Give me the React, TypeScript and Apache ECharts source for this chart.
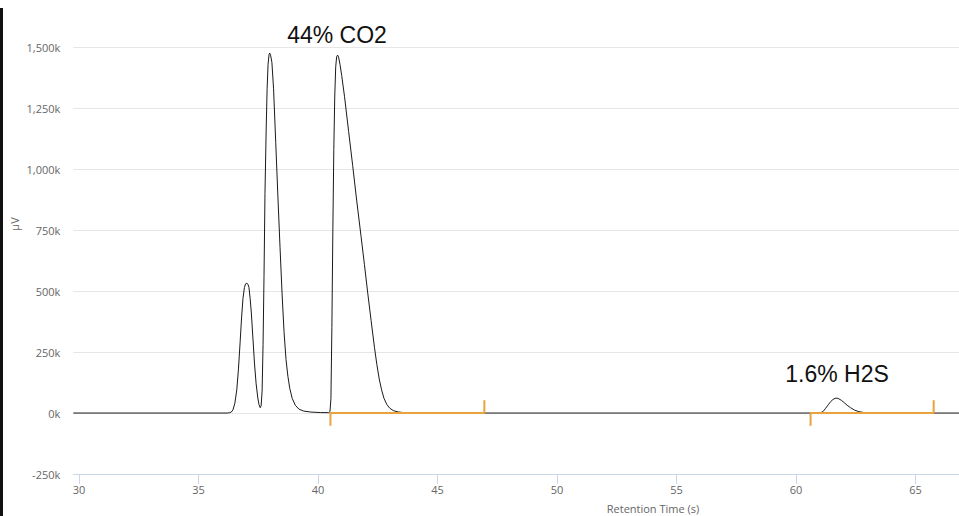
import React, { useEffect, useRef } from "react";
import * as echarts from "echarts";

// Chromatogram trace: retention time (s) and signal (µV)
const traceTime = [
  29.76, 36.2, 36.3, 36.37, 36.44, 36.52, 36.6, 36.67, 36.74, 36.8, 36.86, 36.92, 36.97, 37.02, 37.07, 37.11,
  37.16, 37.21, 37.28, 37.34, 37.41, 37.48, 37.53, 37.58, 37.62, 37.66, 37.7, 37.74, 37.78, 37.83, 37.87,
  37.91, 37.95, 37.98, 38.02, 38.07, 38.14, 38.23, 38.32, 38.41, 38.5, 38.58, 38.66, 38.74, 38.82, 38.92,
  39.05, 39.2, 39.4, 39.7, 40.1, 40.45, 40.5, 40.54, 40.58, 40.62, 40.66, 40.7, 40.74, 40.78, 40.82, 40.86,
  40.92, 40.99, 41.11, 41.28, 41.45, 41.62, 41.8, 41.94, 42.08, 42.22, 42.36, 42.46, 42.56, 42.66, 42.76,
  42.88, 43.0, 43.15, 43.35, 43.6, 44.0,
  60.9, 61.03, 61.14, 61.24, 61.35, 61.45, 61.55, 61.64, 61.72, 61.8, 61.9, 62.0, 62.14, 62.28, 62.45, 62.63,
  62.85, 63.05, 63.4, 66.82,
];
const traceSignal = [
  0, 0, 1500, 4000, 13000, 40000, 95000, 180000, 290000, 390000, 470000, 515000, 530000, 532000, 528000, 515000,
  470000, 410000, 300000, 205000, 120000, 62000, 35000, 22000, 30000, 90000, 280000, 560000, 900000, 1161000, 1330000,
  1430000, 1470000, 1476000, 1465000, 1438000, 1330000, 1110000, 890000, 680000, 480000, 330000, 220000, 150000, 100000, 60000,
  32000, 16000, 8000, 4000, 2000, 1500, 6000, 60000, 350000, 751000, 1080000, 1300000, 1420000, 1462000, 1468000, 1460000,
  1430000, 1385000, 1297000, 1155000, 1015000, 870000, 725000, 610000, 492000, 380000, 270000, 200000, 140000, 95000, 60000,
  35000, 20000, 10000, 4500, 1500, 0,
  0, 1000, 7000, 19700, 34000, 46700, 56000, 60500, 61000, 58000, 52000, 44000, 32000, 22000, 12000, 5700,
  2000, 500, 0, 0,
];

// Integration windows (start, end) in seconds, with marker height
const co2Window = [40.52, 46.96];
const h2sWindow = [60.61, 65.76];
const markerHeight = 52000;

const xTicks = [30, 35, 40, 45, 50, 55, 60, 65];
const xMin = 29.76;
const xMax = 66.82;
const yMin = -250000;
const yMax = 1500000;
const yStep = 250000;

const annotations = [
  { text: "44% CO2", x: 337, y: 35 },
  { text: "1.6% H2S", x: 837, y: 374 },
];

const LABEL_FONT = "'Open Sans', sans-serif";
const ORANGE = "#E8A33D";

function windowLine(w: number[]) {
  return [
    [w[0], -markerHeight],
    [w[0], 0],
    [w[1], 0],
    [w[1], markerHeight],
  ];
}

export default function App() {
  const ref = useRef<HTMLDivElement>(null);
  useEffect(() => {
    if (!ref.current) return;
    const chart = echarts.init(ref.current, null, { renderer: "svg" });
    const traceData = traceTime.map((t, i) => [t, traceSignal[i]]);
    chart.setOption({
      animation: false,
      backgroundColor: "#ffffff",
      grid: { left: 73.3, right: 0, top: 47.3, bottom: 42 },
      xAxis: {
        type: "value",
        min: xMin,
        max: xMax,
        axisLine: { show: true, onZero: false, lineStyle: { color: "#ccd6eb", width: 1 } },
        axisTick: { show: true, length: 10, customValues: xTicks, lineStyle: { color: "#ccd6eb" } },
        axisLabel: {
          customValues: xTicks,
          color: "#666666",
          fontFamily: LABEL_FONT,
          fontSize: 11,
          margin: 10,
        },
        splitLine: { show: false },
      },
      yAxis: {
        type: "value",
        min: yMin,
        max: yMax,
        interval: yStep,
        axisLine: { show: false },
        axisTick: { show: false },
        axisLabel: {
          color: "#666666",
          fontFamily: LABEL_FONT,
          fontSize: 11,
          margin: 13,
          formatter: (v: number) => (v / 1000).toLocaleString("en-US") + "k",
        },
        splitLine: { show: true, lineStyle: { color: "#e6e6e6", width: 1 } },
      },
      series: [
        {
          type: "line",
          data: traceData,
          showSymbol: false,
          smooth: false,
          lineStyle: { color: "#1a1a1a", width: 1 },
          z: 3,
        },
        {
          type: "line",
          data: windowLine(co2Window),
          showSymbol: false,
          lineStyle: { color: ORANGE, width: 2 },
          z: 4,
        },
        {
          type: "line",
          data: windowLine(h2sWindow),
          showSymbol: false,
          lineStyle: { color: ORANGE, width: 2 },
          z: 4,
        },
      ],
      graphic: [
        { type: "rect", left: 0, top: 8, shape: { width: 3, height: 508 }, style: { fill: "#111111" } },
        {
          type: "text",
          x: 14,
          y: 224,
          rotation: Math.PI / 2,
          style: {
            text: "µV",
            fill: "#666666",
            font: "11px 'Open Sans', sans-serif",
            textAlign: "center",
            textVerticalAlign: "middle",
          },
        },
        {
          type: "text",
          x: 653,
          y: 508,
          style: {
            text: "Retention Time (s)",
            fill: "#666666",
            font: "11px 'Open Sans', sans-serif",
            textAlign: "center",
            textVerticalAlign: "middle",
          },
        },
        ...annotations.map((a) => ({
          type: "text",
          x: a.x,
          y: a.y,
          z: 10,
          style: {
            text: a.text,
            fill: "#111111",
            font: "23px 'Liberation Sans', Arial, sans-serif",
            textAlign: "center",
            textVerticalAlign: "middle",
          },
        })),
      ],
    });
    return () => chart.dispose();
  }, []);
  return (
    <div
      ref={ref}
      style={{ position: "fixed", left: 0, top: 0, width: 959, height: 516, background: "#fff" }}
    />
  );
}
